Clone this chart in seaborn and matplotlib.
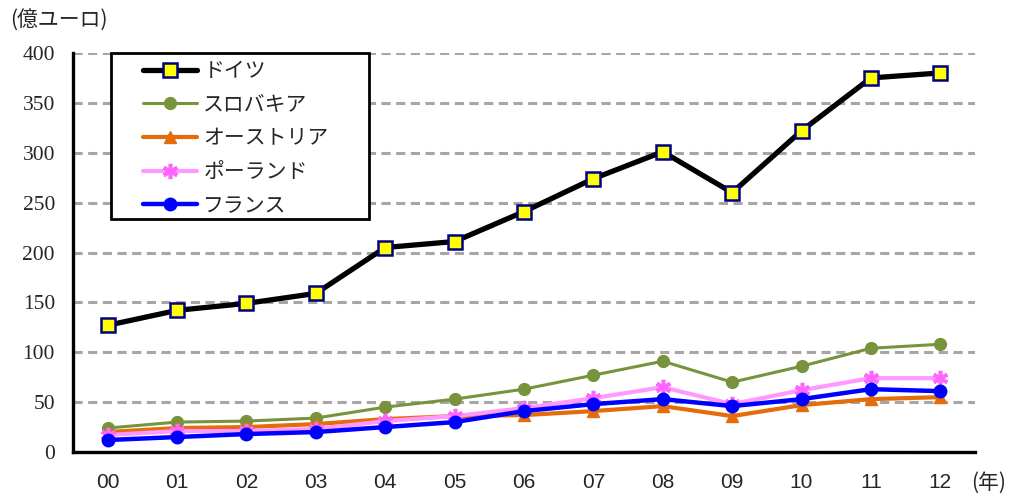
import numpy as np
import pandas as pd
import matplotlib
matplotlib.use("Agg")
import matplotlib.pyplot as plt
from matplotlib.patches import Rectangle
from matplotlib.ticker import FixedLocator
import seaborn as sns

# 年ラベル
years = ["00", "01", "02", "03", "04", "05", "06", "07", "08", "09", "10", "11", "12"]

# 各国の値（億ユーロ）
germany = [127, 142, 149, 159, 205, 211, 241, 274, 301, 260, 322, 375, 380]
slovakia = [24, 30, 31, 34, 45, 53, 63, 77, 91, 70, 86, 104, 108]
austria = [20, 24, 25, 28, 33, 36, 37, 41, 46, 36, 47, 53, 55]
poland = [17, 21, 21, 23, 31, 36, 44, 54, 65, 48, 62, 74, 74]
france = [12, 15, 18, 20, 25, 30, 41, 48, 53, 46, 53, 63, 61]

countries = ["ドイツ", "スロバキア", "オーストリア", "ポーランド", "フランス"]
values = [germany, slovakia, austria, poland, france]

df = pd.concat(
    [pd.DataFrame({"pos": np.arange(len(years)), "value": v, "country": c})
     for c, v in zip(countries, values)],
    ignore_index=True,
)

styles = {
    "ドイツ": dict(color="#000000", lw=3.8, marker="s", ms=10, mfc="#FFFF00", mec="#000080", mew=1.8),
    "スロバキア": dict(color="#77933C", lw=2.2, marker="o", ms=8.5, mfc="#77933C", mec="#77933C", mew=1),
    "オーストリア": dict(color="#E46C0A", lw=3.0, marker="^", ms=9, mfc="#E46C0A", mec="#E46C0A", mew=1),
    "ポーランド": dict(color="#FF99FF", lw=3.0, marker=(6, 2, 0), ms=11, mfc="#FF66FF", mec="#FF66FF", mew=2.6),
    "フランス": dict(color="#0000FF", lw=3.2, marker="o", ms=9, mfc="#0000FF", mec="#0000FF", mew=1),
}

sns.set_style("white")
plt.rcParams["font.family"] = ["Noto Sans CJK JP", "DejaVu Sans"]

fig = plt.figure(figsize=(10.13, 4.95), dpi=100)
W, H = 1013, 495
ax = fig.add_axes([73 / W, (H - 452) / H, (975 - 73) / W, (452 - 53) / H])

for c in countries:
    st = styles[c]
    sns.lineplot(
        data=df[df["country"] == c], x="pos", y="value", ax=ax,
        color=st["color"], linewidth=st["lw"], marker=st["marker"],
        markersize=st["ms"], markerfacecolor=st["mfc"], markeredgecolor=st["mec"],
        markeredgewidth=st["mew"], label=c, zorder=3, legend=False,
    )

ax.set_xlim(-0.5, len(years) - 0.5)
ax.set_ylim(0, 400)
ax.set_xlabel("")
ax.set_ylabel("")

# 目盛り
ax.set_yticks(np.arange(0, 401, 50))
ax.set_yticklabels([str(v) for v in range(0, 401, 50)],
                   family="Liberation Serif", fontsize=15.5)
ax.set_xticks(np.arange(len(years)))
ax.set_xticklabels(years, family="Liberation Sans", fontsize=15)
ax.xaxis.set_minor_locator(FixedLocator(np.arange(0.5, len(years), 1.0)))
ax.tick_params(axis="x", which="major", length=0, pad=15)
ax.tick_params(axis="x", which="minor", direction="in", length=7, width=2.2, color="black")
ax.tick_params(axis="y", direction="in", length=6, width=2.2, color="black", pad=13)

# 軸線
for side in ["top", "right"]:
    ax.spines[side].set_visible(False)
for side in ["left", "bottom"]:
    ax.spines[side].set_color("black")
    ax.spines[side].set_linewidth(2.4)

# 横方向の破線グリッド
ax.yaxis.grid(True, color="#A6A6A6", linewidth=2.2, linestyle=(0, (3, 1.8)))
ax.xaxis.grid(False)
ax.set_axisbelow(True)

# 凡例の枠
frame = Rectangle((111 / W, (H - 219) / H), 258 / W, 166 / H, transform=fig.transFigure,
                  facecolor="white", edgecolor="black", linewidth=2.0, zorder=4)
ax.add_patch(frame)
frame.set_clip_on(False)

handles, labels = ax.get_legend_handles_labels()
leg = ax.legend(handles, labels, loc="upper left",
                bbox_to_anchor=(143 / W, 1 - 60 / H), bbox_transform=fig.transFigure,
                frameon=False, borderpad=0, borderaxespad=0, handlelength=2.6,
                handletextpad=0.3, labelspacing=0.56, prop={"family": "Noto Sans CJK JP", "size": 15})
leg.set_zorder(5)

# 単位
fig.text(10 / W, 1 - 20 / H, "(億ユーロ)", ha="left", va="center", fontsize=15,
         family="Noto Sans CJK JP")
fig.text(971 / W, 1 - 483 / H, "(年)", ha="left", va="center", fontsize=15,
         family="Noto Sans CJK JP")

fig.savefig("out.png", dpi=100)
